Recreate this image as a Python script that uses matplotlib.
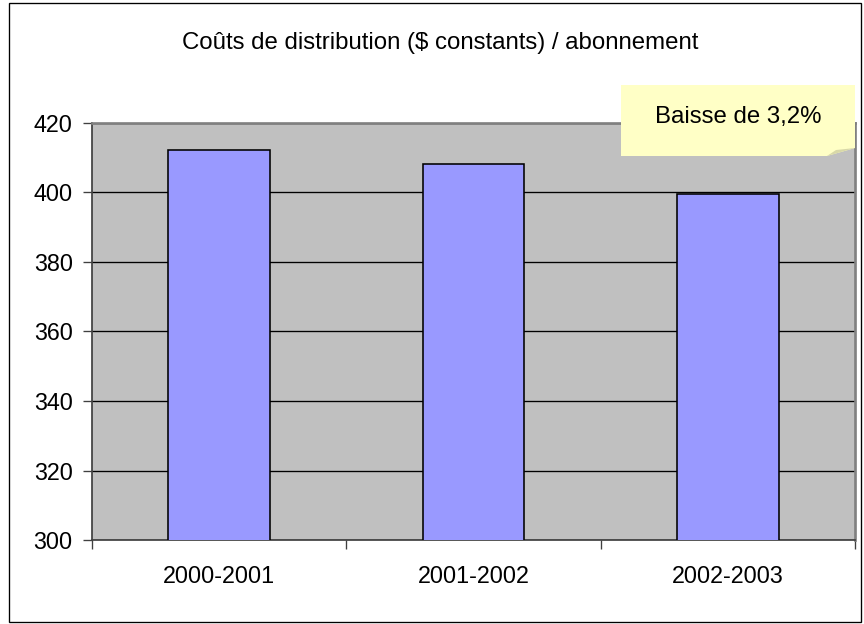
import matplotlib
matplotlib.use("Agg")
import matplotlib.pyplot as plt
from matplotlib.patches import Rectangle, Polygon

# Data
categories = ["2000-2001", "2001-2002", "2002-2003"]
costs = [412.2, 408.1, 399.7]
y_ticks = [300, 320, 340, 360, 380, 400, 420]

title = "Coûts de distribution ($ constants) / abonnement"
callout = "Baisse de 3,2%"

plt.rcParams["font.family"] = ["Liberation Sans", "DejaVu Sans"]

fig = plt.figure(figsize=(9, 6.5), dpi=96)
ax = fig.add_axes([0.1065, 0.1346, 0.883, 0.6683])
ax.set_facecolor("#C0C0C0")

x = list(range(len(categories)))
ax.bar(x, costs, width=0.4, color="#9999FF", edgecolor="black", linewidth=1.2, zorder=3)

ax.set_xlim(-0.5, len(categories) - 0.5)
ax.set_ylim(y_ticks[0], y_ticks[-1])
ax.set_yticks(y_ticks)
ax.yaxis.grid(True, color="black", linewidth=1)
ax.set_axisbelow(True)

# category labels between boundary ticks
ax.set_xticks([i - 0.5 for i in range(len(categories) + 1)])
ax.set_xticklabels([])
ax.set_xticks(x, minor=True)
ax.set_xticklabels(categories, minor=True)
ax.tick_params(axis="x", which="minor", length=0, pad=19, labelsize=17.5)
ax.tick_params(axis="x", which="major", length=6.5, width=1, color="#404040")
ax.tick_params(axis="y", length=6.5, width=1, color="#404040", labelsize=17.5, pad=8)

for side in ["left", "bottom"]:
    ax.spines[side].set_color("#404040")
    ax.spines[side].set_linewidth(1.3)
for side in ["top", "right"]:
    ax.spines[side].set_color("#808080")
    ax.spines[side].set_linewidth(2)

fig.text(0.51, 0.931, title, ha="center", va="center", fontsize=18)

# callout note with folded corner
W, H = 864, 624
fig.patches.append(Polygon([(621 / W, 1 - 85 / H), (855 / W, 1 - 85 / H),
                            (855 / W, 1 - 148 / H), (827 / W, 1 - 156 / H),
                            (621 / W, 1 - 156 / H)],
                           closed=True, transform=fig.transFigure,
                           facecolor="#FFFFC6", edgecolor="none", zorder=5))
fig.patches.append(Polygon([(827 / W, 1 - 156 / H), (855 / W, 1 - 148 / H),
                            (836 / W, 1 - 150 / H)],
                           closed=True, transform=fig.transFigure,
                           facecolor="#D8D8A8", edgecolor="none", zorder=6))
fig.text(738 / W, 1 - 117 / H, callout, ha="center", va="center",
         fontsize=18, zorder=7)

# outer chart border
fig.patches.append(Rectangle((9 / W, 2 / H), 852 / W, 619 / H,
                             transform=fig.transFigure, fill=False,
                             edgecolor="black", linewidth=1))

fig.savefig("out.png", dpi=96)
